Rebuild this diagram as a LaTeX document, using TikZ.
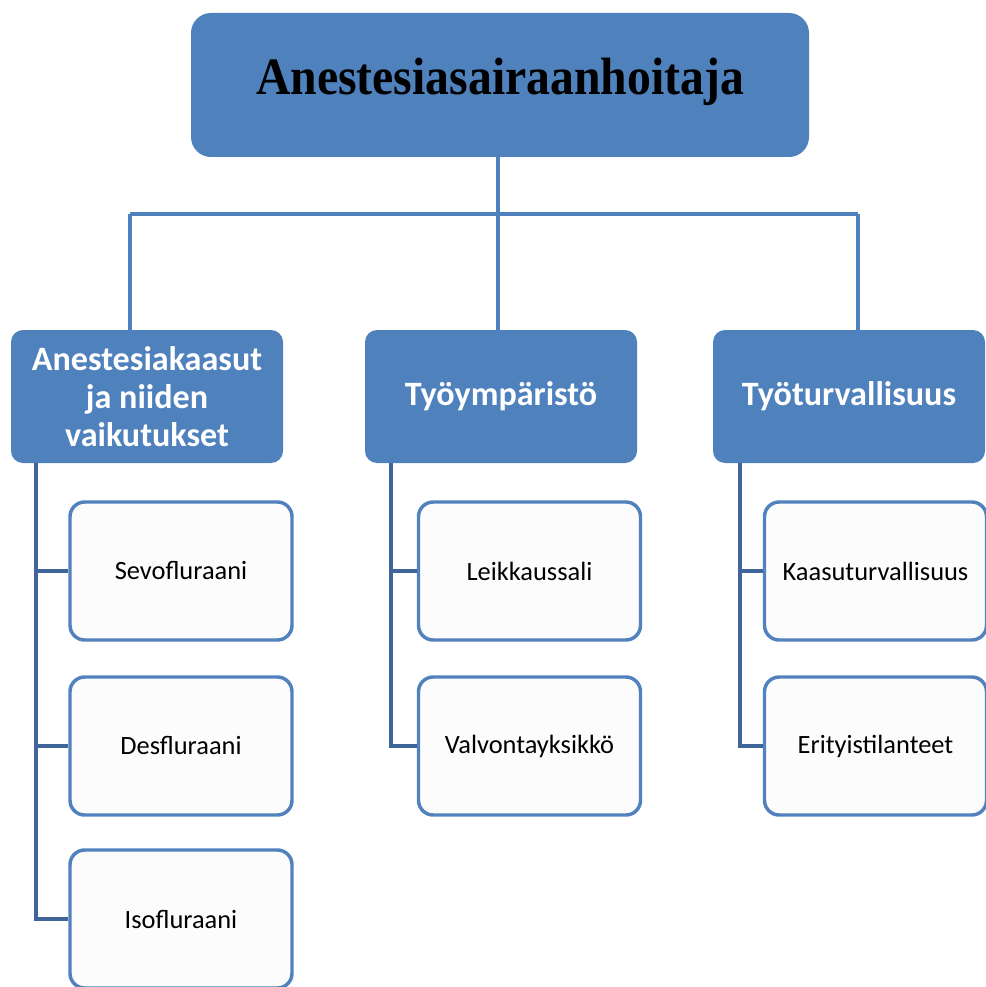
\documentclass[tikz,border=0pt]{standalone}
\usepackage{fontspec}
\setmainfont{Liberation Serif}
\newfontfamily\carlitofont{Carlito}
\definecolor{mainblue}{HTML}{4F81BD}
\definecolor{darkline}{HTML}{3F659A}
\definecolor{childborder}{HTML}{5282BE}
\definecolor{childfill}{HTML}{FCFCFC}
\begin{document}
\begin{tikzpicture}[x=0.75pt,y=-0.75pt,
  rootbox/.style={draw=none,fill=mainblue,rounded corners=15pt,minimum width=618*0.75pt,minimum height=144*0.75pt,inner sep=0pt,font=\fontsize{35.8}{40}\selectfont\bfseries},
  catbox/.style={draw=none,fill=mainblue,rounded corners=9pt,minimum width=272*0.75pt,minimum height=133*0.75pt,inner sep=0pt,text=white,align=center,font=\carlitofont\fontsize{25.6}{28.5}\selectfont\bfseries},
  itembox/.style={draw=childborder,line width=2.6pt,fill=childfill,rounded corners=11pt,minimum width=222*0.75pt,minimum height=138*0.75pt,inner sep=0pt,font=\carlitofont\fontsize{19.8}{23}\selectfont},
  busline/.style={draw=mainblue,line width=2.3pt},
  subline/.style={draw=darkline,line width=3.3pt}]
\useasboundingbox (0,0) rectangle (985,987);
% connectors from root
\coordinate (bus) at (498,214);
\coordinate (busL) at (130,214);
\coordinate (busR) at (858,214);
% nodes
\node[rootbox] (root) at (500,85) {\raisebox{13.5pt}{\scalebox{1}[1.1]{Anestesiasairaanhoitaja}}};
\node[catbox] (cat1) at (147,396.5) {Anestesiakaasut\\ja niiden\\vaikutukset};
\node[catbox] (cat2) at (501,396.5) {Työympäristö};
\node[catbox] (cat3) at (849,396.5) {Työturvallisuus};
\node[itembox] (i11) at (181,571) {Sevofluraani};
\node[itembox] (i12) at (181,746) {Desfluraani};
\node[itembox] (i13) at (181,919) {Isofluraani};
\node[itembox] (i21) at (529.5,571) {Leikkaussali};
\node[itembox] (i22) at (529.5,746) {Valvontayksikkö};
\node[itembox] (i31) at (875.5,571) {Kaasuturvallisuus};
\node[itembox] (i32) at (875.5,746) {Erityistilanteet};
% root connectors
\coordinate (e1) at (130,342);
\coordinate (e2) at (498,342);
\coordinate (e3) at (858,342);
\draw[busline] (root.south -| bus) -- (bus);
\draw[busline] (busL) -- (busR);
\draw[busline] (busL) -- (e1);
\draw[busline] (bus) -- (e2);
\draw[busline] (busR) -- (e3);
% sub connectors
\coordinate (t1) at (36,463);
\coordinate (t2) at (391,463);
\coordinate (t3) at (740,463);
\draw[subline] (t1) |- (i13.west);
\draw[subline] (t1 |- i11.west) -- (i11.west);
\draw[subline] (t1 |- i12.west) -- (i12.west);
\draw[subline] (t2) |- (i22.west);
\draw[subline] (t2 |- i21.west) -- (i21.west);
\draw[subline] (t3) |- (i32.west);
\draw[subline] (t3 |- i31.west) -- (i31.west);
\end{tikzpicture}
\end{document}
